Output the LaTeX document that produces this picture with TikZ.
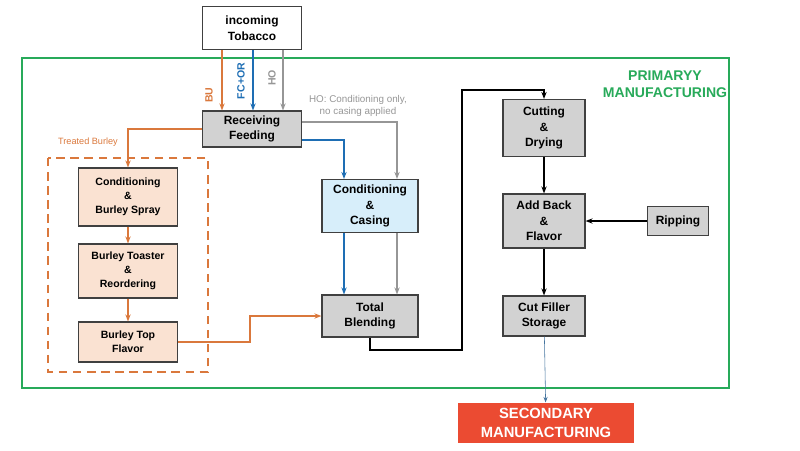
\documentclass[tikz,border=0pt]{standalone}
\usepackage{fontspec}
\setmainfont{Liberation Sans}
\usetikzlibrary{arrows.meta}
\definecolor{bu}{RGB}{218,120,60}
\definecolor{fc}{RGB}{30,110,180}
\definecolor{ho}{RGB}{150,150,150}
\definecolor{frame}{RGB}{40,170,90}
\definecolor{peach}{RGB}{250,226,210}
\definecolor{sky}{RGB}{215,238,250}
\definecolor{boxgray}{RGB}{210,210,210}
\definecolor{sec}{RGB}{235,75,50}
\tikzset{
  box/.style={draw=black!75,thick,align=center,font=\bfseries\fontsize{8.5}{11}\selectfont,inner sep=0pt},
  small/.style={box,font=\bfseries\fontsize{7.5}{10}\selectfont},
  tag/.style={rotate=90,font=\bfseries\fontsize{7.5}{9}\selectfont},
  flow/.style={thick,-{Stealth[length=5pt]}}
}
\begin{document}
\begin{tikzpicture}[x=0.025cm,y=-0.025cm]
\useasboundingbox (0,0) rectangle (800,450);
\draw[frame,thick] (22,58) rectangle (729,388);
\node[frame,font=\bfseries\fontsize{10}{12}\selectfont,align=center] (title) at (665,84) {PRIMARYY\\MANUFACTURING};
\draw[bu,thick,dash pattern=on 6pt off 4pt] (48,158) rectangle (208,372);
\node[box,fill=white,minimum width=99*0.025cm,minimum height=43*0.025cm] (inc) at (252,28) {incoming\\Tobacco};
\node[box,fill=boxgray,minimum width=99*0.025cm,minimum height=36*0.025cm] (recv) at (252,129) {Receiving\\Feeding};
\node[small,fill=peach,minimum width=99*0.025cm,minimum height=58*0.025cm] (cond) at (128,197) {Conditioning\\\&\\Burley Spray};
\node[small,fill=peach,minimum width=99*0.025cm,minimum height=54*0.025cm] (toast) at (128,271) {Burley Toaster\\\&\\Reordering};
\node[small,fill=peach,minimum width=99*0.025cm,minimum height=40*0.025cm] (top) at (128,342) {Burley Top\\Flavor};
\node[box,fill=sky,minimum width=96*0.025cm,minimum height=53*0.025cm] (casing) at (370,206) {Conditioning\\\&\\Casing};
\node[box,fill=boxgray,minimum width=96*0.025cm,minimum height=42*0.025cm] (blend) at (370,316) {Total\\Blending};
\node[box,fill=boxgray,minimum width=82*0.025cm,minimum height=57*0.025cm] (cut) at (544,128) {Cutting\\\&\\Drying};
\node[box,fill=boxgray,minimum width=82*0.025cm,minimum height=54*0.025cm] (add) at (544,221) {Add Back\\\&\\Flavor};
\node[box,fill=boxgray,minimum width=61*0.025cm,minimum height=29*0.025cm] (rip) at (678,221) {Ripping};
\node[box,fill=boxgray,minimum width=82*0.025cm,minimum height=40*0.025cm] (store) at (544,316) {Cut Filler\\Storage};
\node[box,draw=none,fill=sec,text=white,font=\bfseries\fontsize{10.5}{13}\selectfont,minimum width=176*0.025cm,minimum height=40*0.025cm] (second) at (546,423) {SECONDARY\\MANUFACTURING};
\node[ho,font=\fontsize{7}{9}\selectfont,align=center] (holabel) at (358,106) {HO: Conditioning only,\\no casing applied};
\node[bu,font=\fontsize{6.5}{8}\selectfont] (treated) at (88,142) {Treated Burley};
\node[tag,bu] (bulabel) at (209,95) {BU};
\node[tag,fc] (fclabel) at (241,81) {FC+OR};
\node[tag,ho] (holine) at (272,78) {HO};
\draw[flow,bu] (inc.south-|222,0) -- (recv.north-|222,0);
\draw[flow,fc] (inc.south-|253,0) -- (recv.north-|253,0);
\draw[flow,ho] (inc.south-|283,0) -- (recv.north-|283,0);
\draw[flow,bu] (recv.west) -| (cond.north);
\draw[flow,ho] (recv.east|-0,122) -| (casing.north-|397,0);
\draw[flow,fc] (recv.east|-0,140) -| (casing.north-|344,0);
\draw[flow,bu] (cond) -- (toast);
\draw[flow,bu] (toast) -- (top);
\draw[flow,fc] (casing.south-|344,0) -- (blend.north-|344,0);
\draw[flow,ho] (casing.south-|397,0) -- (blend.north-|397,0);
\draw[flow,bu] (top.east) -- (250,342) |- (blend.west);
\draw[flow,black,very thick] (blend.south) |- (462,350) |- (544,90) -- (cut.north);
\draw[flow,black,very thick] (cut) -- (add);
\draw[flow,black,very thick] (rip) -- (add);
\draw[flow,black,very thick] (add) -- (store);
\draw[-{Stealth[length=4pt]},fc!60!gray] (store) -- (second);
\end{tikzpicture}
\end{document}
